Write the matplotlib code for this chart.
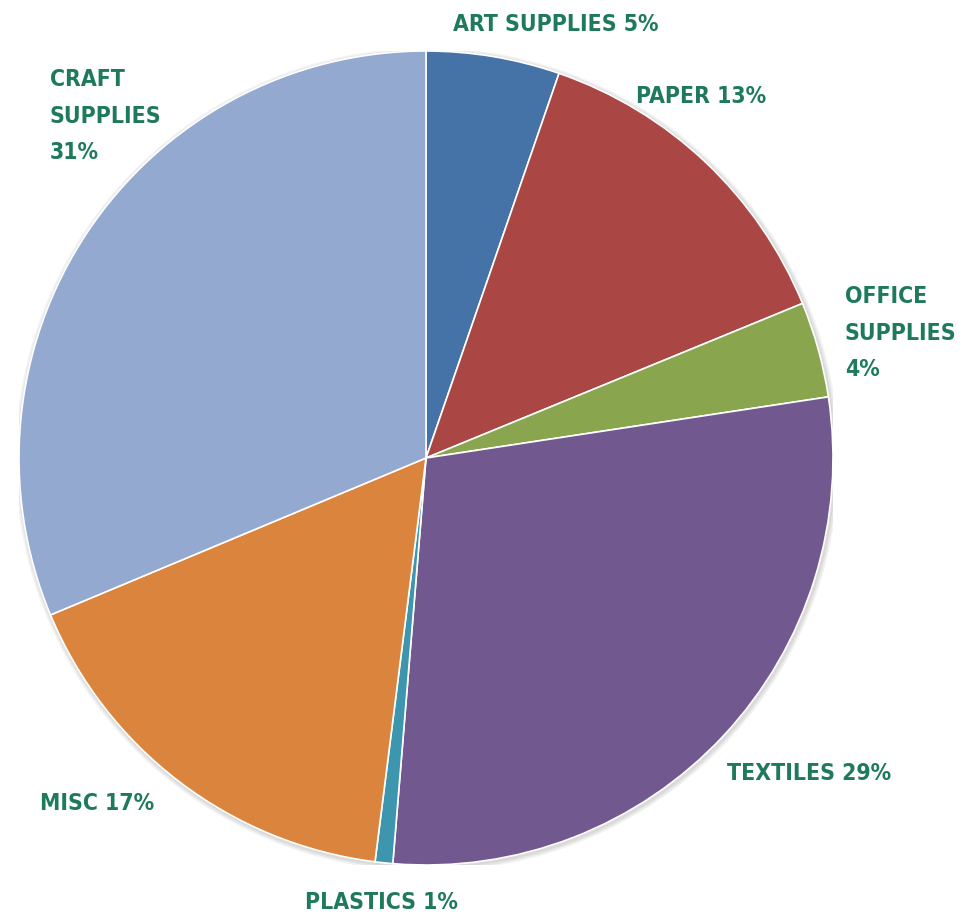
import matplotlib.pyplot as plt
from matplotlib.patches import Circle

# Category shares (percent)
categories = ["ART SUPPLIES", "PAPER", "OFFICE\nSUPPLIES", "TEXTILES", "PLASTICS", "MISC", "CRAFT\nSUPPLIES"]
shares = [5.3, 13.5, 3.8, 28.7, 0.7, 16.7, 31.3]
shown_pct = [5, 13, 4, 29, 1, 17, 31]
colors = ["#4572A7", "#AA4643", "#89A54E", "#71588F", "#3D96AE", "#DB843D", "#93A9CF"]

# label anchors, in units of the pie radius (left aligned, centred vertically)
label_pos = [(0.066, 1.064), (0.516, 0.887), (1.029, 0.307), (0.740, -0.774),
             (-0.297, -1.093), (-0.948, -0.848), (-0.924, 0.840)]
# single-line labels put the percent on the same line
label_sep = [" ", " ", "\n", " ", " ", " ", "\n"]

W, H = 966, 921
cx, cy, r = 426, 458, 407

fig = plt.figure(figsize=(W / 100, H / 100), dpi=100)
ax = fig.add_axes([(cx - r) / W, (H - cy - r) / H, 2 * r / W, 2 * r / H])

# soft shadow behind the pie
for i in range(3):
    ax.add_patch(Circle((0.003, -0.004), 1.0 + 0.004 * (i + 1), color="black", alpha=0.05, lw=0, zorder=0))

ax.pie(shares, colors=colors, startangle=90, counterclock=False, radius=1.0,
       wedgeprops=dict(edgecolor="white", linewidth=1.2), frame=True)
ax.set_xlim(-1, 1)
ax.set_ylim(-1, 1)
ax.set_aspect("equal")
ax.axis("off")

font = ["Liberation Sans Narrow", "DejaVu Sans"]
for name, pct, sep, (x, y) in zip(categories, shown_pct, label_sep, label_pos):
    ax.text(x, y, f"{name}{sep}{pct}%", ha="left", va="center", fontsize=16.5,
            fontweight="bold", color="#1E7A5A", family=font, fontstretch="condensed",
            linespacing=1.75)

fig.savefig("out.png", dpi=100)
